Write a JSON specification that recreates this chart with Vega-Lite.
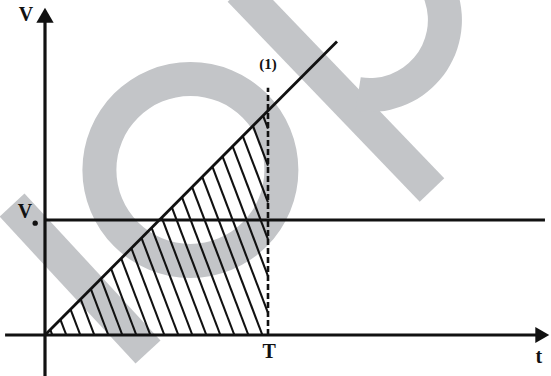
{
  "$schema": "https://vega.github.io/schema/vega-lite/v6.json",
  "width": 551,
  "height": 376,
  "autosize": "none",
  "padding": 0,
  "background": "white",
  "config": {"view": {"stroke": null}},
  "datasets": {
    "bands": [
      {"t": -0.148, "v": 1.13, "t2": 0.462, "v2": -0.148},
      {"t": 0.874, "v": 3.0, "t2": 1.7354, "v2": 1.2609}
    ],
    "ring": [{"t": 0.652, "v": 1.435}],
    "bowl": [{"t": 1.457, "v": 2.739}],
    "solid": [
      {"t": 0, "v": 1, "t2": 2.242, "v2": 1},
      {"t": 0, "v": 0, "t2": 1.3094, "v2": 2.553}
    ],
    "hatch": [
      {"t": 0.0237, "v": 0.0461, "t2": 0.0327, "v2": 0},
      {"t": 0.0691, "v": 0.1347, "t2": 0.0955, "v2": 0},
      {"t": 0.1145, "v": 0.2233, "t2": 0.1583, "v2": 0},
      {"t": 0.16, "v": 0.312, "t2": 0.2211, "v2": 0},
      {"t": 0.2054, "v": 0.4006, "t2": 0.2839, "v2": 0},
      {"t": 0.2508, "v": 0.4892, "t2": 0.3467, "v2": 0},
      {"t": 0.2963, "v": 0.5778, "t2": 0.4095, "v2": 0},
      {"t": 0.3417, "v": 0.6664, "t2": 0.4723, "v2": 0},
      {"t": 0.3871, "v": 0.755, "t2": 0.5351, "v2": 0},
      {"t": 0.4326, "v": 0.8436, "t2": 0.5979, "v2": 0},
      {"t": 0.478, "v": 0.9322, "t2": 0.6607, "v2": 0},
      {"t": 0.5235, "v": 1.0208, "t2": 0.7235, "v2": 0},
      {"t": 0.5689, "v": 1.1094, "t2": 0.7863, "v2": 0},
      {"t": 0.6143, "v": 1.198, "t2": 0.8491, "v2": 0},
      {"t": 0.6598, "v": 1.2866, "t2": 0.9119, "v2": 0},
      {"t": 0.7052, "v": 1.3752, "t2": 0.9747, "v2": 0},
      {"t": 0.7506, "v": 1.4638, "t2": 1, "v2": 0.1914},
      {"t": 0.7961, "v": 1.5524, "t2": 1, "v2": 0.5118},
      {"t": 0.8415, "v": 1.641, "t2": 1, "v2": 0.8323},
      {"t": 0.887, "v": 1.7297, "t2": 1, "v2": 1.1528},
      {"t": 0.9324, "v": 1.8182, "t2": 1, "v2": 1.4733},
      {"t": 0.9778, "v": 1.9068, "t2": 1, "v2": 1.7939}
    ],
    "dashed": [{"t": 1, "v": 0, "t2": 1, "v2": 2.15}],
    "axes": [
      {"t": 0, "v": -0.36, "t2": 0, "v2": 2.75},
      {"t": -0.179, "v": 0, "t2": 2.22, "v2": 0}
    ],
    "arrowUp": [{"t": 0, "v": 2.78}],
    "arrowRight": [{"t": 2.23, "v": 0}],
    "subDot": [{"t": -0.044, "v": 0.972}],
    "bigLabels": [
      {"t": -0.085, "v": 2.78, "label": "V"},
      {"t": -0.09, "v": 1.07, "label": "V"},
      {"t": 1.005, "v": -0.15, "label": "T"},
      {"t": 2.215, "v": -0.19, "label": "t"}
    ],
    "midLabels": [
      {"t": 1.0, "v": 2.355, "label": "(1)"}
    ]
  },
  "encoding": {
    "x": {"field": "t", "type": "quantitative", "axis": null, "scale": {"domain": [-0.20179, 2.26906], "nice": false, "zero": false}},
    "y": {"field": "v", "type": "quantitative", "axis": null, "scale": {"domain": [-0.35652, 2.91304], "nice": false, "zero": false}}
  },
  "layer": [
    {
      "data": {"name": "bands"},
      "mark": {"type": "rule", "color": "#c3c5c8", "strokeWidth": 34, "strokeCap": "butt"},
      "encoding": {"x2": {"field": "t2"}, "y2": {"field": "v2"}}
    },
    {
      "data": {"name": "ring"},
      "mark": {"type": "arc", "color": "#c3c5c8", "innerRadius": 74, "outerRadius": 108, "theta": 0, "theta2": 6.2832}
    },
    {
      "data": {"name": "bowl"},
      "mark": {"type": "arc", "color": "#c3c5c8", "innerRadius": 58, "outerRadius": 92, "theta": -0.8, "theta2": 3.3}
    },
    {
      "data": {"name": "hatch"},
      "mark": {"type": "rule", "color": "#111111", "strokeWidth": 2.1},
      "encoding": {"x2": {"field": "t2"}, "y2": {"field": "v2"}}
    },
    {
      "data": {"name": "solid"},
      "mark": {"type": "rule", "color": "#111111", "strokeWidth": 2.8},
      "encoding": {"x2": {"field": "t2"}, "y2": {"field": "v2"}}
    },
    {
      "data": {"name": "dashed"},
      "mark": {"type": "rule", "color": "#111111", "strokeWidth": 2.6, "strokeDash": [6, 3]},
      "encoding": {"x2": {"field": "t2"}, "y2": {"field": "v2"}}
    },
    {
      "data": {"name": "axes"},
      "mark": {"type": "rule", "color": "#111111", "strokeWidth": 3.2},
      "encoding": {"x2": {"field": "t2"}, "y2": {"field": "v2"}}
    },
    {
      "data": {"name": "arrowUp"},
      "mark": {"type": "point", "shape": "triangle-up", "filled": true, "color": "#111111", "opacity": 1, "size": 300}
    },
    {
      "data": {"name": "arrowRight"},
      "mark": {"type": "point", "shape": "triangle-right", "filled": true, "color": "#111111", "opacity": 1, "size": 260}
    },
    {
      "data": {"name": "subDot"},
      "mark": {"type": "point", "shape": "circle", "filled": true, "color": "#111111", "opacity": 1, "size": 28}
    },
    {
      "data": {"name": "bigLabels"},
      "mark": {"type": "text", "font": "Liberation Serif", "fontWeight": "bold", "fontSize": 20, "align": "center", "baseline": "middle", "color": "#111111"},
      "encoding": {"text": {"field": "label"}}
    },
    {
      "data": {"name": "midLabels"},
      "mark": {"type": "text", "font": "Liberation Serif", "fontWeight": "bold", "fontSize": 15, "align": "center", "baseline": "middle", "color": "#111111"},
      "encoding": {"text": {"field": "label"}}
    }
  ]
}
